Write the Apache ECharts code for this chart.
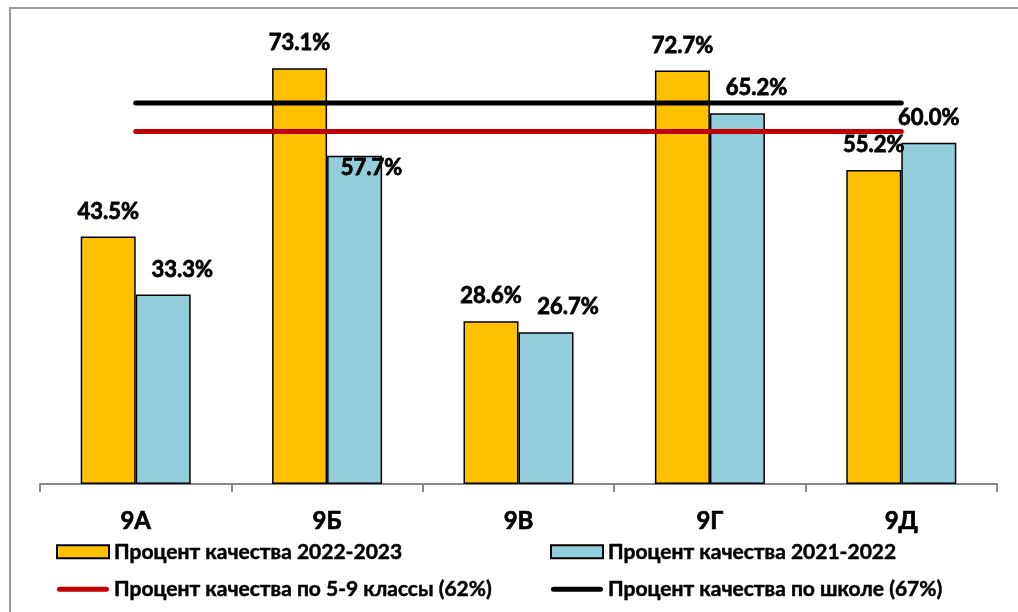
<!DOCTYPE html>
<html>
<head>
<meta charset="utf-8">
<script src="https://cdn.jsdelivr.net/npm/echarts@6/dist/echarts.min.js"></script>
<style>
  html, body { margin: 0; padding: 0; background: #fff; }
  #frame { position: absolute; left: 9px; top: 7px; width: 1100px; height: 700px; border: 2px solid #9a9a9a; }
  #chart { position: absolute; left: 0; top: 0; width: 1018px; height: 612px; }
</style>
</head>
<body>
<div id="frame"></div>
<div id="chart"></div>
<script>
// классы и значения (%)
const categories = ['9А', '9Б', '9В', '9Г', '9Д'];
const quality2023 = [43.5, 73.1, 28.6, 72.7, 55.2];
const quality2022 = [33.3, 57.7, 26.7, 65.2, 60.0];
const grade59Level = [62, 62, 62, 62, 62];
const schoolLevel = [67, 67, 67, 67, 67];

// сдвиг подписей голубых столбцов (как в исходнике)
const blueLabelShift = [[19, 0], [17, 37], [22, 0], [19, 0], [0, 0]];

const FONT = 'Lato, "Open Sans", sans-serif';
// толстая линия для значка легенды (крайние M задают рамку 52x13)
const LINE_ICON = 'path://M0,0 M52,13 M2.5,4 L49.5,4 A2.5,2.5 0 0 1 49.5,9 L2.5,9 A2.5,2.5 0 0 1 2.5,4 Z';

const myChart = echarts.init(document.getElementById('chart'));

const labelBase = {
  show: true,
  position: 'top',
  distance: 14,
  color: '#000',
  fontFamily: FONT,
  fontWeight: 'bold',
  fontSize: 22,
  textBorderColor: '#000',
  textBorderWidth: 0.8,
  formatter: function (p) { return p.value.toFixed(1) + '%'; }
};

const legendText = {
  color: '#000',
  fontFamily: FONT,
  fontWeight: 'bold',
  fontSize: 21,
  lineHeight: 21,
  textBorderColor: '#000',
  textBorderWidth: 0.5
};

myChart.setOption({
  backgroundColor: 'transparent',
  animation: false,
  grid: { left: 40, right: 21, top: 29, bottom: 128 },
  legend: [
    {
      orient: 'vertical',
      left: 51,
      top: 536,
      itemWidth: 52,
      itemHeight: 13,
      itemGap: 16,
      textStyle: legendText,
      data: [
        { name: 'Процент качества 2022-2023', icon: 'rect' },
        { name: 'Процент качества по 5-9 классы (62%)', icon: LINE_ICON, itemStyle: { color: '#C00000' } }
      ]
    },
    {
      orient: 'vertical',
      left: 545,
      top: 536,
      itemWidth: 52,
      itemHeight: 13,
      itemGap: 16,
      textStyle: legendText,
      data: [
        { name: 'Процент качества 2021-2022', icon: 'rect' },
        { name: 'Процент качества по школе (67%)', icon: LINE_ICON, itemStyle: { color: '#000' } }
      ]
    }
  ],
  xAxis: {
    type: 'category',
    data: categories,
    axisLine: { lineStyle: { color: '#878787', width: 2 } },
    axisTick: { show: true, length: 8, lineStyle: { color: '#878787', width: 2 } },
    axisLabel: {
      margin: 25,
      color: '#000',
      fontFamily: FONT,
      fontWeight: 'bold',
      fontSize: 24,
      textBorderColor: '#000',
      textBorderWidth: 0.7
    }
  },
  yAxis: {
    type: 'value',
    min: 0,
    max: 80,
    show: false,
    splitLine: { show: false }
  },
  series: [
    {
      name: 'Процент качества 2022-2023',
      type: 'bar',
      barWidth: 55,
      barGap: '0%',
      itemStyle: { color: '#FFC000', borderColor: '#000', borderWidth: 1.5 },
      label: labelBase,
      data: quality2023
    },
    {
      name: 'Процент качества 2021-2022',
      type: 'bar',
      barWidth: 55,
      barGap: '0%',
      itemStyle: { color: '#92CDDC', borderColor: '#000', borderWidth: 1.5 },
      label: labelBase,
      data: quality2022.map(function (v, i) {
        return { value: v, label: { offset: blueLabelShift[i] } };
      })
    },
    {
      name: 'Процент качества по 5-9 классы (62%)',
      type: 'line',
      symbol: 'none',
      z: 5,
      itemStyle: { color: '#C00000' },
      lineStyle: { color: '#C00000', width: 5, cap: 'round' },
      data: grade59Level
    },
    {
      name: 'Процент качества по школе (67%)',
      type: 'line',
      symbol: 'none',
      z: 5,
      itemStyle: { color: '#000' },
      lineStyle: { color: '#000', width: 5, cap: 'round' },
      data: schoolLevel
    }
  ]
});
</script>
</body>
</html>
